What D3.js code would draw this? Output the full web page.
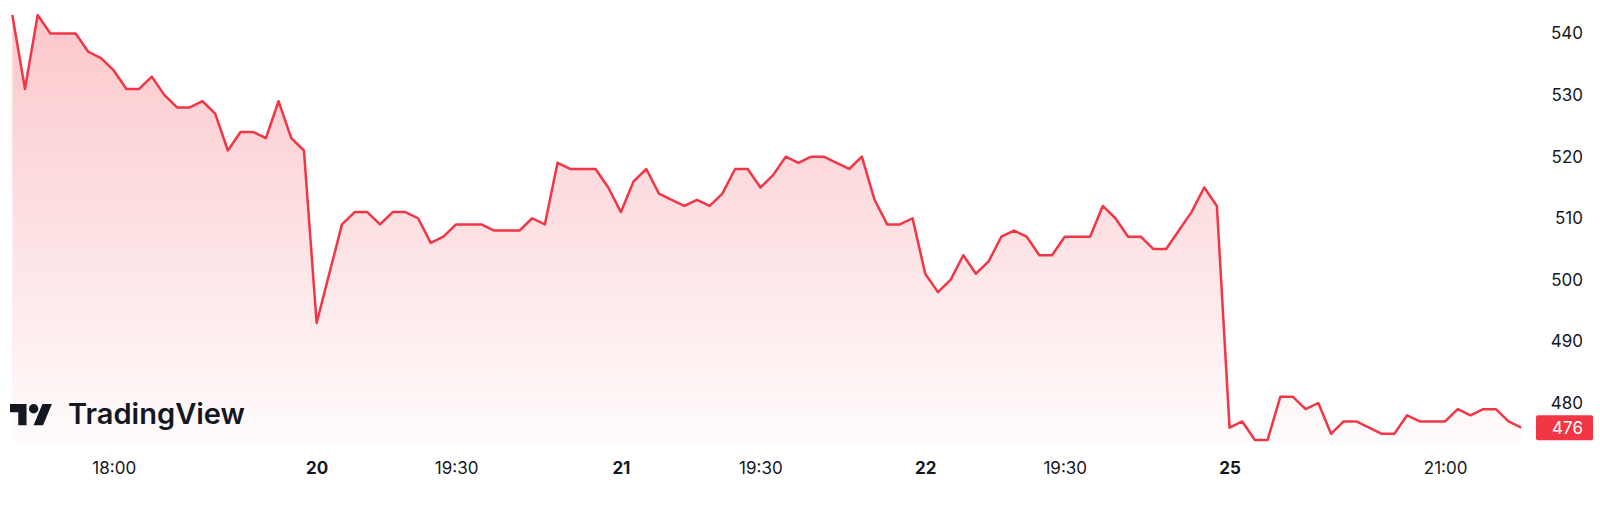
<!DOCTYPE html>
<meta charset="utf-8">
<style>
body{
	margin:0;
	background:#fff;
	font-family:Inter, "Noto Sans", sans-serif;
}
svg{display:block;}
</style>
<script src="https://cdn.jsdelivr.net/npm/d3@7"></script>
<div id="chart"></div>

<script>

// 15 minute closes, one row per session (19, 20, 21, 22, 25)
var day19 = [543,531,543,540,540,540,537,536,534,531,531,533,530,528,528,529,527,521,524,524,523,529,523,521]
var day20 = [493,501,509,511,511,509,511,511,510,506,507,509,509,509,508,508,508,510,509,519,518,518,518,515]
var day21 = [511,516,518,514,513,512,513,512,514,518,518,515,517,520,519,520,520,519,518,520,513,509,509,510]
var day22 = [501,498,500,504,501,503,507,508,507,504,504,507,507,507,512,510,507,507,505,505,508,511,515,512]
var day25 = [476,477,474,474,481,481,479,480,475,477,477,476,475,475,478,477,477,477,479,478,479,479,477,476]
var prices = day19.concat(day20, day21, day22, day25)

// x tick labels and the bar they sit under; day starts are bold
var tickLabels = ["18:00","20","19:30","21","19:30","22","19:30","25","21:00"]
var tickIndex  = [8,24,35,48,59,72,83,96,113]
var tickBold   = [false,true,false,true,false,true,false,true,false]

var priceTicks = [480,490,500,510,520,530,540]

var width = 1600, height = 511
var red = "#F23645"

var svg = d3.select("#chart").append("svg")
	.attr("width",width).attr("height",height)

var x = d3.scaleLinear().domain([0,prices.length-1]).range([12.3,1521.2])
var y = d3.scaleLinear().domain([480,540]).range([403,33.5])
var bottom = 442

var grad = svg.append("defs").append("linearGradient")
	.attr("id","fill").attr("gradientUnits","userSpaceOnUse")
	.attr("x1",0).attr("x2",0).attr("y1",10).attr("y2",bottom)
grad.append("stop").attr("offset","0%").attr("stop-color",red).attr("stop-opacity",0.28)
grad.append("stop").attr("offset","100%").attr("stop-color",red).attr("stop-opacity",0.02)

var area = d3.area()
	.x(function(d,i){ return x(i) })
	.y0(bottom)
	.y1(function(d){ return y(d) })
var line = d3.line()
	.x(function(d,i){ return x(i) })
	.y(function(d){ return y(d) })

svg.append("path").datum(prices).attr("d",area).attr("fill","url(#fill)")
svg.append("path").datum(prices).attr("d",line)
	.attr("fill","none").attr("stroke",red).attr("stroke-width",2.5)
	.attr("stroke-linejoin","round")

// price axis on the right
var yAxis = svg.append("g").attr("transform","translate(1583,0)")
	.call(d3.axisRight(y).tickValues(priceTicks).tickSize(0).tickPadding(0))
yAxis.select(".domain").remove()
yAxis.selectAll("text")
	.attr("text-anchor","end")
	.attr("font-family","Inter")
	.attr("font-size",17)
	.attr("fill","#131722")

// last price badge
var last = prices[prices.length-1]
svg.append("rect")
	.attr("x",1536).attr("y",y(last)-12.5)
	.attr("width",57).attr("height",25).attr("rx",2)
	.attr("fill",red)
svg.append("text")
	.attr("x",1583).attr("y",y(last)).attr("dy","0.36em")
	.attr("text-anchor","end")
	.attr("font-size",17).attr("fill","#fff")
	.text(last)

// time axis
var xAxis = svg.append("g").attr("transform","translate(0,468)")
	.call(d3.axisBottom(x).tickValues(tickIndex).tickSize(0).tickPadding(0)
		.tickFormat(function(d,i){ return tickLabels[i] }))
xAxis.select(".domain").remove()
xAxis.selectAll("text")
	.attr("dy","0.36em")
	.attr("font-family","Inter")
	.attr("font-size",17)
	.attr("font-weight",function(d,i){ return tickBold[i] ? 700 : 400 })
	.attr("fill","#131722")

// TradingView mark
var s = 1.18
var logo = svg.append("g").attr("fill","#131722")
	.attr("transform","translate(10,"+(404-4*s)+") scale("+s+")")
logo.append("path").attr("d","M14 22H7V11H0V4h14v18zM28 22h-8l7.5-18h8L28 22z")
logo.append("circle").attr("cx",20).attr("cy",8).attr("r",4)
svg.append("text")
	.attr("x",68).attr("y",424)
	.attr("font-family","Inter").attr("font-weight",600)
	.attr("font-size",28)
	.attr("textLength",177).attr("lengthAdjust","spacingAndGlyphs")
	.attr("fill","#131722")
	.text("TradingView")

</script>
